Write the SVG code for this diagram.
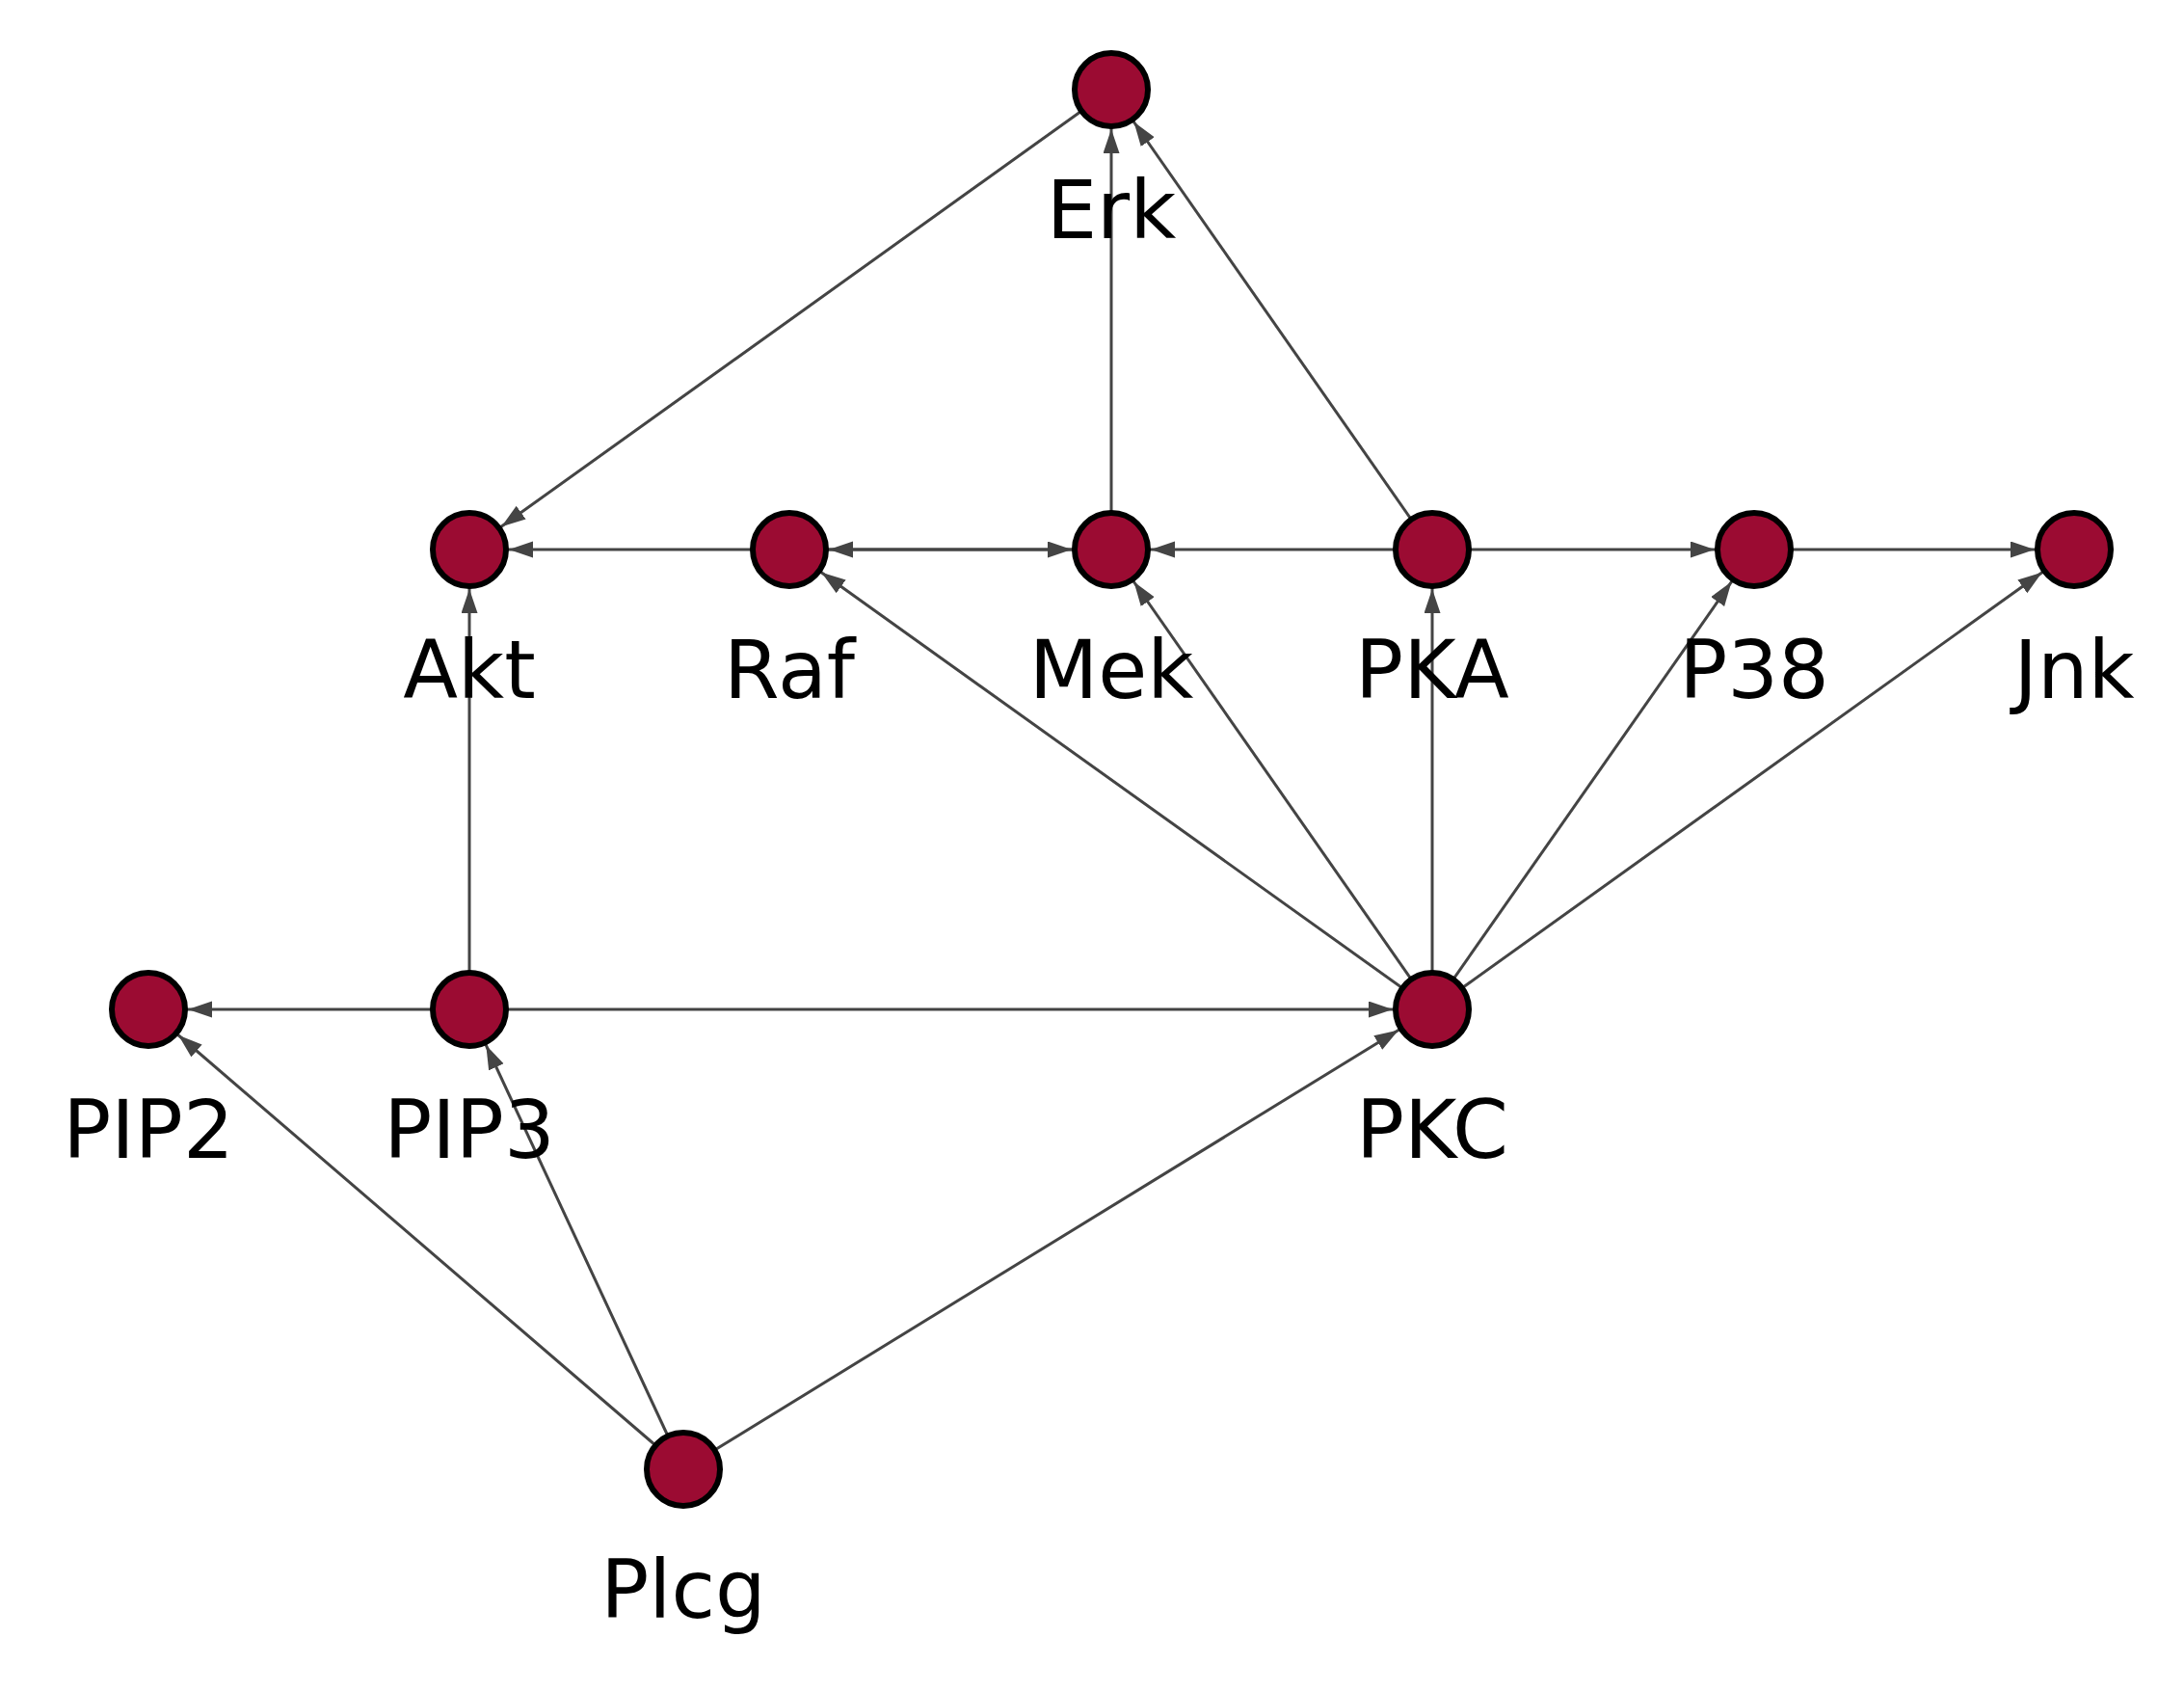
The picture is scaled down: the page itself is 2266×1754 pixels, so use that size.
<svg xmlns="http://www.w3.org/2000/svg" width="2266" height="1754" viewBox="0 0 2266 1754">
<style>
.e{stroke:#444444;stroke-width:3;fill:none;marker-end:url(#arr)}
.n{fill:#9b0b32;stroke:#000000;stroke-width:6}
.t{font-family:"DejaVu Sans",sans-serif;font-size:83px;fill:#000000;text-anchor:middle}
</style>
<defs>
<marker id="arr" markerUnits="userSpaceOnUse" markerWidth="70" markerHeight="20" viewBox="0 0 70 20" refX="66" refY="8.5" orient="auto">
<path d="M0,0 L25,8.5 L0,17 Z" fill="#444444"/>
</marker>
</defs>
<rect width="2266" height="1754" fill="#ffffff"/>
<g id="connectors">
<line class="e" x1="1153" y1="93" x2="487" y2="570"/>
<line class="e" x1="1153" y1="570" x2="1153" y2="93"/>
<line class="e" x1="1486" y1="570" x2="1153" y2="93"/>
<line class="e" x1="819" y1="570" x2="487" y2="570"/>
<line class="e" x1="819" y1="570" x2="1153" y2="570"/>
<line class="e" x1="1153" y1="570" x2="819" y2="570"/>
<line class="e" x1="1486" y1="570" x2="1153" y2="570"/>
<line class="e" x1="1486" y1="570" x2="1820" y2="570"/>
<line class="e" x1="1820" y1="570" x2="2152" y2="570"/>
<line class="e" x1="1486" y1="1047" x2="819" y2="570"/>
<line class="e" x1="1486" y1="1047" x2="1153" y2="570"/>
<line class="e" x1="1486" y1="1047" x2="1486" y2="570"/>
<line class="e" x1="1486" y1="1047" x2="1820" y2="570"/>
<line class="e" x1="1486" y1="1047" x2="2152" y2="570"/>
<line class="e" x1="487" y1="1047" x2="487" y2="570"/>
<line class="e" x1="487" y1="1047" x2="154" y2="1047"/>
<line class="e" x1="487" y1="1047" x2="1486" y2="1047"/>
<line class="e" x1="709" y1="1524" x2="154" y2="1047"/>
<line class="e" x1="709" y1="1524" x2="487" y2="1047"/>
<line class="e" x1="709" y1="1524" x2="1486" y2="1047"/>
</g>
<g id="Erk"><circle class="n" cx="1153" cy="93" r="38"/><text class="t" x="1153" y="247">Erk</text></g>
<g id="Akt"><circle class="n" cx="487" cy="570" r="38"/><text class="t" x="487" y="724">Akt</text></g>
<g id="Raf"><circle class="n" cx="819" cy="570" r="38"/><text class="t" x="819" y="724">Raf</text></g>
<g id="Mek"><circle class="n" cx="1153" cy="570" r="38"/><text class="t" x="1153" y="724">Mek</text></g>
<g id="PKA"><circle class="n" cx="1486" cy="570" r="38"/><text class="t" x="1486" y="724">PKA</text></g>
<g id="P38"><circle class="n" cx="1820" cy="570" r="38"/><text class="t" x="1820" y="724">P38</text></g>
<g id="Jnk"><circle class="n" cx="2152" cy="570" r="38"/><text class="t" x="2152" y="724">Jnk</text></g>
<g id="PIP2"><circle class="n" cx="154" cy="1047" r="38"/><text class="t" x="154" y="1201">PIP2</text></g>
<g id="PIP3"><circle class="n" cx="487" cy="1047" r="38"/><text class="t" x="487" y="1201">PIP3</text></g>
<g id="PKC"><circle class="n" cx="1486" cy="1047" r="38"/><text class="t" x="1486" y="1201">PKC</text></g>
<g id="Plcg"><circle class="n" cx="709" cy="1524" r="38"/><text class="t" x="709" y="1678">Plcg</text></g>
</svg>
